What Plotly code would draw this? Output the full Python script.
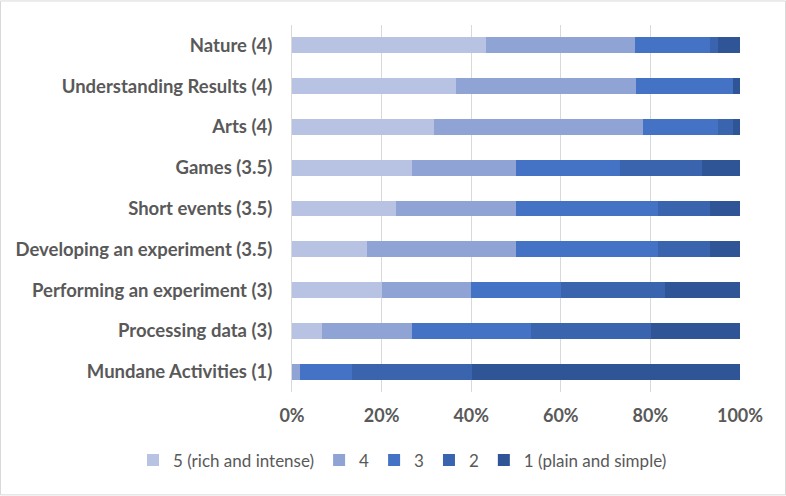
import plotly.graph_objects as go

categories = [
    "Nature (4)",
    "Understanding Results (4)",
    "Arts (4)",
    "Games (3.5)",
    "Short events (3.5)",
    "Developing an experiment (3.5)",
    "Performing an experiment (3)",
    "Processing data (3)",
    "Mundane Activities (1)",
]

series_names = ["5 (rich and intense)", "4", "3", "2", "1 (plain and simple)"]

s5 = [43.3, 36.7, 31.7, 26.7, 23.3, 16.7, 20.0, 6.7, 0.0]
s4 = [33.3, 40.0, 46.7, 23.3, 26.7, 33.3, 20.0, 20.0, 1.7]
s3 = [16.7, 21.7, 16.7, 23.3, 31.7, 31.7, 20.0, 26.7, 11.7]
s2 = [1.7, 0.0, 3.3, 18.3, 11.7, 11.7, 23.3, 26.7, 26.7]
s1 = [5.0, 1.6, 1.6, 8.4, 6.6, 6.6, 16.7, 19.9, 59.9]

colors = ["#B8C3E3", "#8FA4D5", "#4472C4", "#3B64AE", "#2F5597"]

W, H = 786, 496
L, R, T, B = 292, 46, 24.6, 103.6
pw = W - L - R
ph = H - T - B

fig = go.Figure()
for name, vals, col in zip(series_names, [s5, s4, s3, s2, s1], colors):
    fig.add_trace(go.Bar(
        y=categories, x=vals, name=name, orientation="h",
        marker=dict(color=col, line=dict(width=0)),
        hoverinfo="x+name",
    ))

fig.update_layout(
    template="none",
    width=W, height=H,
    barmode="stack", barnorm="percent",
    bargap=0.61,
    margin=dict(l=L, r=R, t=T, b=B, pad=0, autoexpand=False),
    paper_bgcolor="white", plot_bgcolor="white",
    font=dict(family="Lato, Carlito, sans-serif", color="#595959"),
    legend=dict(
        orientation="h", xref="paper", xanchor="left", x=(133 - L) / pw,
        yref="paper", yanchor="middle", y=-(461 - (T + ph)) / ph,
        font=dict(size=17, color="#595959"),
        traceorder="normal", itemwidth=30,
        bgcolor="rgba(0,0,0,0)",
    ),
    showlegend=True,
)
fig.update_xaxes(
    automargin=False,
    range=[0, 100], tickvals=[0, 20, 40, 60, 80, 100],
    ticktext=["0%", "20%", "40%", "60%", "80%", "100%"],
    showgrid=True, gridcolor="#D9D9D9", gridwidth=1,
    zeroline=False, showline=False, ticks="",
    tickfont=dict(size=18, color="#595959", family="Lato, sans-serif", weight="bold"),
    ticklabelstandoff=11,
)
fig.update_yaxes(
    automargin=False,
    categoryorder="array", categoryarray=categories[::-1],
    showgrid=False, showline=True, linecolor="#D9D9D9", linewidth=1,
    ticks="", ticklabelstandoff=15,
    tickfont=dict(size=18.5, color="#595959", family="Lato, sans-serif", weight="bold"),
)
fig.add_shape(
    type="rect", xref="paper", yref="paper",
    x0=(0.5 - L) / pw, x1=(W - 0.5 - L) / pw,
    y0=-(H - 0.5 - (T + ph)) / ph, y1=(T + ph - 0.5) / ph,
    line=dict(color="#D9D9D9", width=1), fillcolor="rgba(0,0,0,0)",
)
fig.write_html(
    "out.html",
    config={"displayModeBar": False},
    post_script="document.body.style.margin='0';document.body.style.overflow='hidden';",
)
